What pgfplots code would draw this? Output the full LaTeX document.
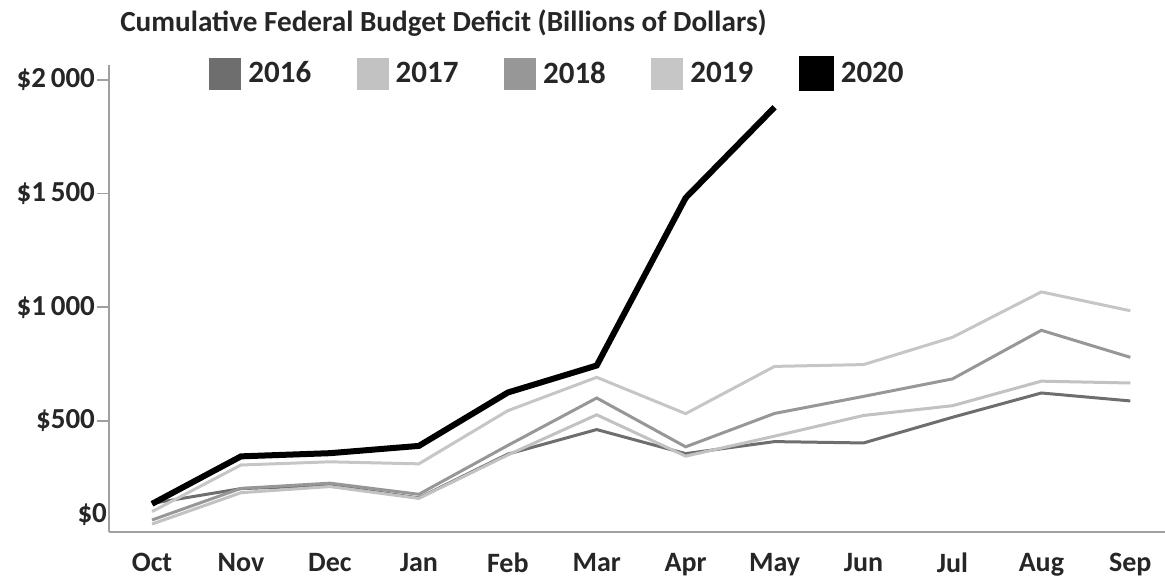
\documentclass[border=0pt]{standalone}
\usepackage{fontspec}
\setmainfont{Carlito}
\usepackage{pgfplots}
\pgfplotsset{compat=1.18}
\definecolor{c16}{HTML}{6E6E6E}
\definecolor{c17}{HTML}{C2C2C2}
\definecolor{c18}{HTML}{979797}
\definecolor{c19}{HTML}{C6C6C6}
\definecolor{axc}{HTML}{A0A0A0}
\begin{document}
\begin{tikzpicture}
\useasboundingbox (-54.5pt,-22.5pt) rectangle (528pt,266pt);
\begin{axis}[
  at={(0,0)}, anchor=south west,
  scale only axis, width=528pt, height=233.5pt,
  xmin=-0.484, xmax=11.39, ymin=10, ymax=2066,
  axis x line=bottom, axis y line=left,
  axis line style={-, draw=axc, line width=0.9pt},
  xtick={0,...,11},
  xticklabels={Oct,Nov,Dec,Jan,Feb,Mar,Apr,May,Jun,Jul,Aug,Sep},
  x tick style={draw=none},
  ytick={500,1000,1500,2000},
  yticklabels={\$500,\$1\,000,\$1\,500,\$2\,000},
  extra y ticks={85},
  extra y tick labels={\$0},
  extra y tick style={major tick length=0pt, y tick style={draw=none}},
  y tick style={draw=axc, line width=0.9pt},
  major tick length=6pt,
  tick align=outside,
  ticklabel style={font=\fontsize{14.5}{17}\selectfont\bfseries, text=black!85},
  xticklabel style={yshift=-1pt, font=\fontsize{14}{17}\selectfont\bfseries},
  yticklabel style={xshift=2.5pt},
  clip=false,
  legend columns=5,
  legend style={at={(axis description cs:0.0947,0.981)}, anchor=west, draw=none, fill=none, inner sep=0pt,
    font=\fontsize{15.5}{18}\selectfont\bfseries, text=black!85,
    /tikz/every odd column/.append style={column sep=1.5pt},
    /tikz/every even column/.append style={column sep=20.75pt}},
  legend image code/.code={\fill[#1] (0pt,-7.25pt) rectangle (14.5pt,7.25pt);},
  title={Cumulative Federal Budget Deficit (Billions of Dollars)},
  title style={at={(axis description cs:0.004,1)}, anchor=base west, yshift=10.5pt,
    font=\fontsize{14.6}{17}\selectfont\bfseries, text=black!85},
]
\addplot[c16, line width=1.5pt] coordinates {(0,136) (1,201) (2,215) (3,160) (4,353) (5,461) (6,355) (7,408) (8,402) (9,515) (10,622) (11,587)};
\addplot[c17, line width=1.5pt] coordinates {(0,45) (1,183) (2,210) (3,158) (4,349) (5,526) (6,344) (7,432) (8,523) (9,566) (10,674) (11,666)};
\addplot[c18, line width=1.5pt] coordinates {(0,63) (1,202) (2,225) (3,176) (4,391) (5,600) (6,385) (7,532) (8,607) (9,684) (10,898) (11,779)};
\addplot[c19, line width=1.5pt] coordinates {(0,100) (1,305) (2,319) (3,310) (4,544) (5,691) (6,531) (7,739) (8,747) (9,867) (10,1067) (11,984)};
\addplot[black, line width=3pt] coordinates {(0,134) (1,343) (2,357) (3,389) (4,624) (5,743) (6,1481) (7,1880)};
\legend{2016,2017,2018,2019,2020}
\end{axis}
\end{tikzpicture}
\end{document}
